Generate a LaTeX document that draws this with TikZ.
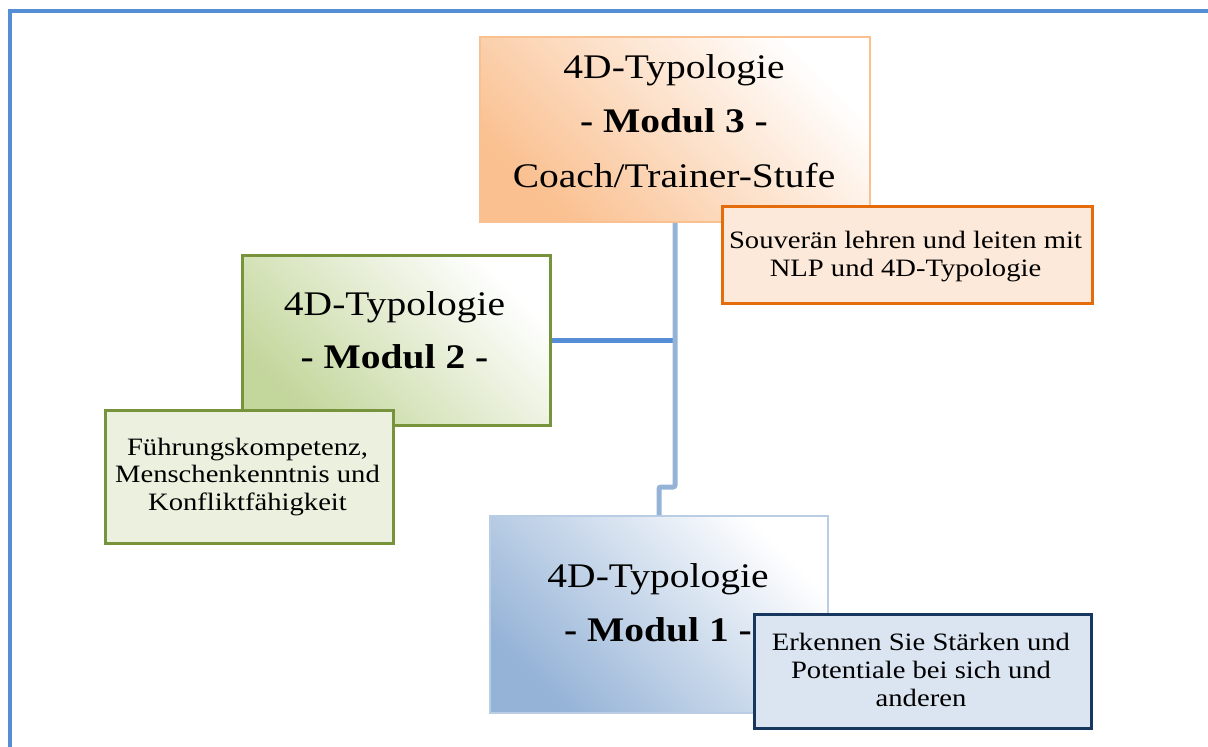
\documentclass[tikz,border=0pt]{standalone}
\usepackage{fontspec}
\setmainfont[FakeStretch=1.145]{Liberation Serif}
\definecolor{frameblue}{HTML}{558ED5}
\definecolor{lineblue}{HTML}{95B3D7}
\definecolor{orfill}{HTML}{FAC090}
\definecolor{orline}{HTML}{FAC090}
\definecolor{orbox}{HTML}{FDE9D9}
\definecolor{ordark}{HTML}{E46C0A}
\definecolor{grfill}{HTML}{C3D69B}
\definecolor{grline}{HTML}{77933C}
\definecolor{grbox}{HTML}{EBF1DE}
\definecolor{blfill}{HTML}{95B3D7}
\definecolor{blline}{HTML}{B9CDE5}
\definecolor{blbox}{HTML}{DBE5F1}
\definecolor{bldark}{HTML}{17375E}
\begin{document}
\begin{tikzpicture}[x=1pt,y=-1pt,
  modbox/.style={rectangle, anchor=north west, inner sep=0pt, top color=white, bottom color=#1, shading angle=-45},
  infobox/.style={rectangle, anchor=north west, inner sep=0pt, line width=3pt},
  bigtxt/.style={anchor=base, inner sep=0pt, font=\fontsize{34.5}{41}\selectfont},
  smalltxt/.style={anchor=base, inner sep=0pt, font=\fontsize{25}{29}\selectfont},
  conn/.style={line width=5pt, rounded corners=2pt}
]
\useasboundingbox (0,0) rectangle (1208,747);
\fill[white] (0,0) rectangle (1208,747);
% frame
\draw[frameblue, line width=4pt] (10,747) -- (10,10.5) -- (1208,10.5);

% module boxes
\node[modbox=orfill, draw=orline, line width=2pt, minimum width=390pt, minimum height=185pt] (m3) at (479,36) {};
\node[modbox=grfill, draw=grline, line width=3pt, minimum width=308pt, minimum height=170pt] (m2) at (240.5,253.5) {};
\node[modbox=blfill, draw=blline, line width=2pt, minimum width=338pt, minimum height=197pt] (m1) at (489,515) {};

% connectors
\draw[conn, frameblue] (m2.east) -- (m2.east -| m3.south);
\draw[conn, lineblue] (m3.south) -- ++(0,264) -| (m1.north);

% module 3 texts
\node[bigtxt] (m3a) at (674,78) {4D-Typologie};
\node[bigtxt] (m3b) at (674,132) {\bfseries - Modul 3 -};
\node[bigtxt] (m3c) at (674,187) {Coach/Trainer-Stufe};
% module 2 texts
\node[bigtxt] (m2a) at (394.5,315) {4D-Typologie};
\node[bigtxt] (m2b) at (394.5,368) {\bfseries - Modul 2 -};
% module 1 texts
\node[bigtxt] (m1a) at (658,587) {4D-Typologie};
\node[bigtxt] (m1b) at (658,641) {\bfseries - Modul 1 -};

% info boxes
\node[infobox, draw=ordark, fill=orbox, minimum width=370pt, minimum height=97pt] (o3) at (720.5,204.5) {};
\node[infobox, draw=grline, fill=grbox, minimum width=288pt, minimum height=133pt] (g2) at (103.5,408.5) {};
\node[infobox, draw=bldark, fill=blbox, minimum width=337pt, minimum height=114pt] (b1) at (752.5,612.5) {};

% info texts
\node[smalltxt] (o3a) at (905.5,248) {Souverän lehren und leiten mit};
\node[smalltxt] (o3b) at (905.5,276) {NLP und 4D-Typologie};
\node[smalltxt] (g2a) at (247.5,455) {Führungskompetenz,};
\node[smalltxt] (g2b) at (247.5,482) {Menschenkenntnis und};
\node[smalltxt] (g2c) at (247.5,510) {Konfliktfähigkeit};
\node[smalltxt] (b1a) at (921,650) {Erkennen Sie Stärken und};
\node[smalltxt] (b1b) at (921,678) {Potentiale bei sich und};
\node[smalltxt] (b1c) at (921,706) {anderen};
\end{tikzpicture}
\end{document}
